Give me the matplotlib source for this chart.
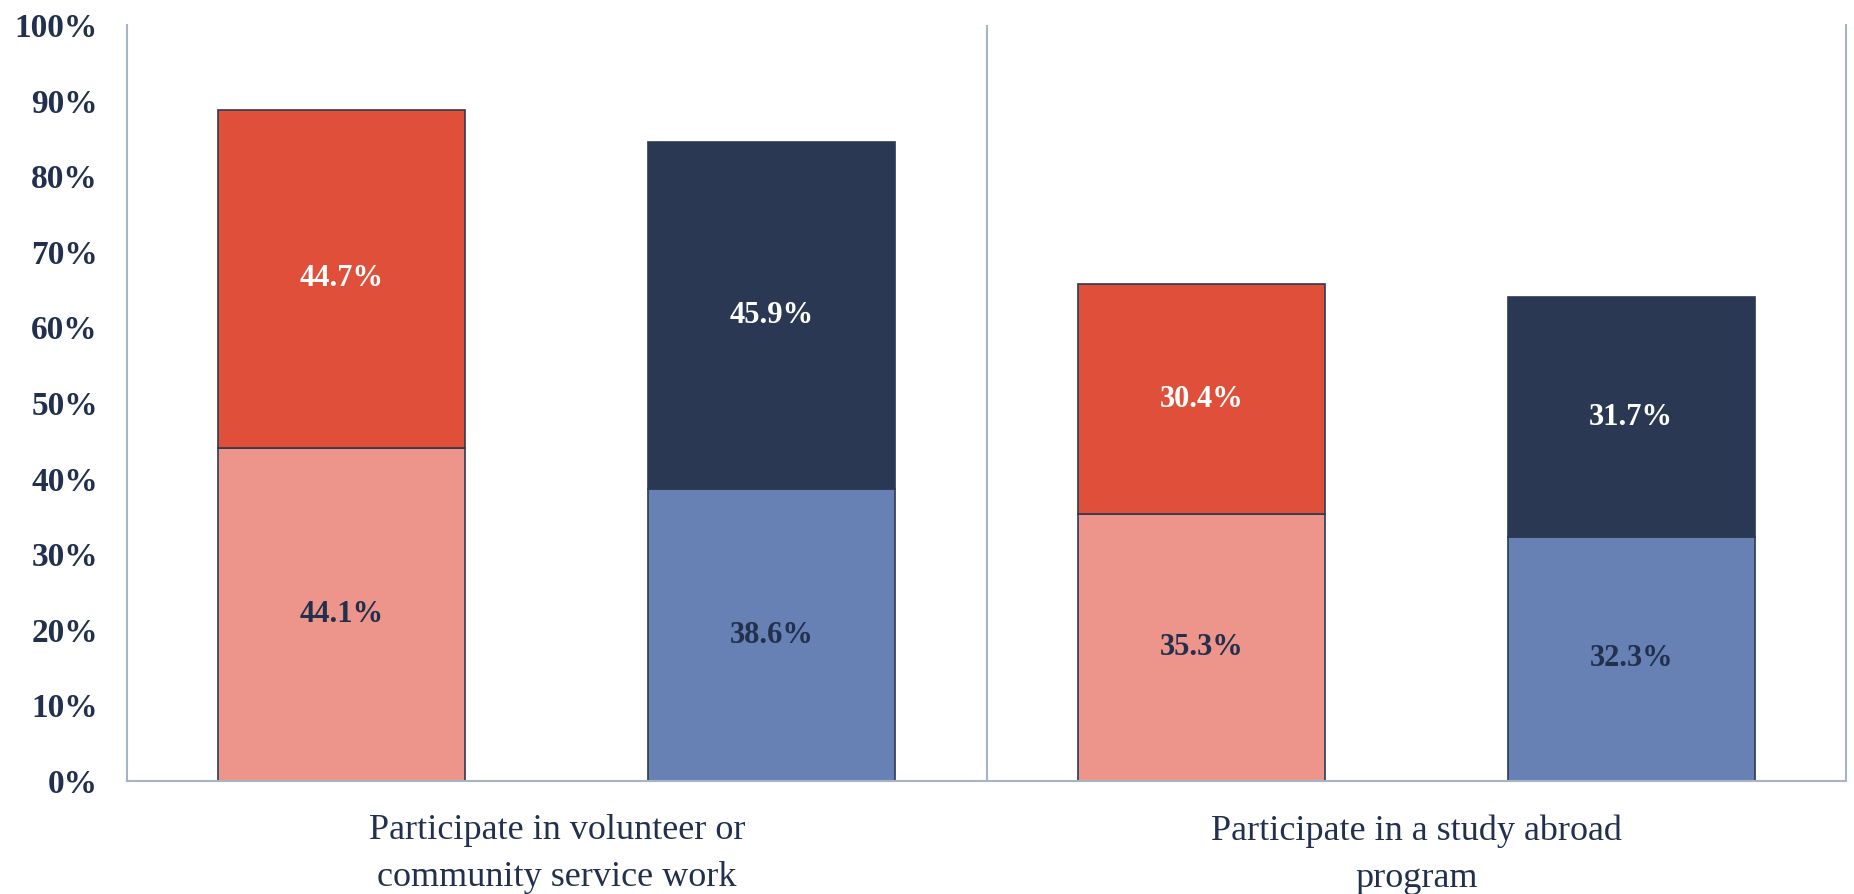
import matplotlib.pyplot as plt
import numpy as np

# data
categories = ['Participate in volunteer or\ncommunity service work',
              'Participate in a study abroad\nprogram']
lower_vals = [44.1, 38.6, 35.3, 32.3]
upper_vals = [44.7, 45.9, 30.4, 31.7]
yticks = [0, 10, 20, 30, 40, 50, 60, 70, 80, 90, 100]

lower_colors = ['#ED958A', '#6781B5', '#ED958A', '#6781B5']
upper_colors = ['#E04F39', '#2A3854', '#E04F39', '#2A3854']
navy = '#22304D'
edge = '#2B3A55'
spine = '#A7B4C4'

plt.rcParams['font.family'] = ['Liberation Serif', 'DejaVu Serif']

fig = plt.figure(figsize=(18.54, 8.94), dpi=100)
ax = fig.add_axes([0.0685, 0.1264, 0.9272, 0.8456])

x = np.arange(len(lower_vals))
w = 0.575
ax.bar(x, lower_vals, width=w, color=lower_colors, edgecolor=edge, linewidth=1.2)
ax.bar(x, upper_vals, width=w, bottom=lower_vals, color=upper_colors,
       edgecolor=edge, linewidth=1.2)

for i in range(len(x)):
    ax.text(x[i], lower_vals[i] / 2, '%.1f%%' % lower_vals[i], ha='center',
            va='center', fontsize=22, fontweight='bold', color=navy)
    ax.text(x[i], lower_vals[i] + upper_vals[i] / 2, '%.1f%%' % upper_vals[i],
            ha='center', va='center', fontsize=22, fontweight='bold', color='white')

ax.set_xlim(-0.5, 3.5)
ax.set_ylim(0, 100)
ax.set_yticks(yticks)
ax.set_yticklabels(['%d%%' % t for t in yticks], fontsize=24, fontweight='bold',
                   color=navy)
ax.tick_params(axis='y', length=0, pad=21)
ax.set_xticks([0.5, 2.5])
ax.set_xticklabels(categories, fontsize=26, color=navy, linespacing=1.55)
ax.tick_params(axis='x', length=0, pad=24)

ax.axvline(1.5, color=spine, linewidth=1.5)
for s in ['left', 'right', 'bottom']:
    ax.spines[s].set_color(spine)
    ax.spines[s].set_linewidth(1.5)
ax.spines['top'].set_visible(False)

fig.savefig('out.png', dpi=100)
